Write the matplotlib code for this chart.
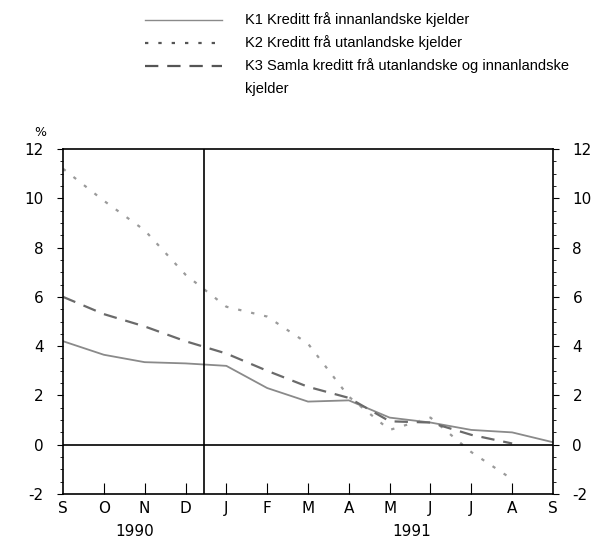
# -*- coding: utf-8 -*-
"""
Kreditt fra innanlandske og utanlandske kjelder, 12-manaders vekst
"""

import matplotlib
matplotlib.use("Agg")
import matplotlib.pyplot as plt
from matplotlib.lines import Line2D
import numpy as np

plt.rcParams["axes.unicode_minus"] = False

# data (months Sep 1990 .. Sep 1991)
months = ["S", "O", "N", "D", "J", "F", "M", "A", "M", "J", "J", "A", "S"]
k1 = [4.2, 3.65, 3.35, 3.3, 3.2, 2.3, 1.75, 1.8, 1.1, 0.9, 0.6, 0.5, 0.1]
k2 = [11.2, 9.9, 8.7, 6.9, 5.6, 5.2, 4.1, 1.95, 0.6, 1.1, -0.3, -1.4]
k3 = [6.0, 5.3, 4.8, 4.2, 3.7, 3.0, 2.35, 1.9, 0.95, 0.9, 0.4, 0.05]
years = ["1990", "1991"]
labels = ["K1 Kreditt frå innanlandske kjelder",
          "K2 Kreditt frå utanlandske kjelder",
          "K3 Samla kreditt frå utanlandske og innanlandske",
          "kjelder"]

fig = plt.figure(figsize=(5.98, 5.40), dpi=100)
ax = fig.add_axes([63/598, 46/540, 490/598, 345/540])

x = np.arange(len(months))
ax.plot(x, k1, color="#8a8a8a", lw=1.3, ls="-")
ax.plot(x[:len(k2)], k2, color="#9a9a9a", lw=1.6, ls=(0, (1.5, 4.5)))
ax.plot(x[:len(k3)], k3, color="#6a6a6a", lw=1.6, ls=(0, (6, 4)))

ax.axhline(0, color="black", lw=1.2)
ax.axvline(3.46, color="black", lw=1.2)

ax.set_xlim(0, 12)
ax.set_ylim(-2, 12)

for s in ax.spines.values():
    s.set_linewidth(1.2)

# y axis on both sides
yt = np.arange(-2, 13, 2)
ax.set_yticks(yt)
ax.set_yticks(np.arange(-2, 12.1, 0.5), minor=True)
ax.tick_params(axis="y", which="both", left=True, right=True,
               labelleft=True, labelright=True, direction="out",
               labelsize=11, pad=10)
ax.tick_params(axis="y", which="major", length=4)
ax.tick_params(axis="y", which="minor", length=2)

# x axis: ticks pointing inward at the months
ax.set_xticks(x)
ax.set_xticklabels(months, fontsize=11)
ax.tick_params(axis="x", direction="in", length=8, pad=5)
ax.xaxis.get_major_ticks()[0].tick1line.set_visible(False)
ax.xaxis.get_major_ticks()[-1].tick1line.set_visible(False)

fig.text(135/598, 1 - 532/540, years[0], ha="center", va="center", fontsize=11)
fig.text(412/598, 1 - 532/540, years[1], ha="center", va="center", fontsize=11)
fig.text(40/598, 1 - 133/540, "%", ha="center", va="center", fontsize=9)

# legend drawn by hand at the top
styles = [dict(color="#8a8a8a", lw=1.0, ls="-"),
          dict(color="#555555", lw=1.6, ls=(0, (1.5, 4.5))),
          dict(color="#555555", lw=1.6, ls=(0, (6, 4)))]
rows = [20, 43, 66, 89]
for i, yy in enumerate(rows):
    fy = 1 - yy / 540
    if i < len(styles):
        fig.add_artist(Line2D([145/598, 222/598], [fy, fy],
                              transform=fig.transFigure, **styles[i]))
    fig.text(245/598, fy, labels[i], ha="left", va="center",
             fontsize=10.5, family="Liberation Sans")

fig.savefig("out.png", dpi=100)
